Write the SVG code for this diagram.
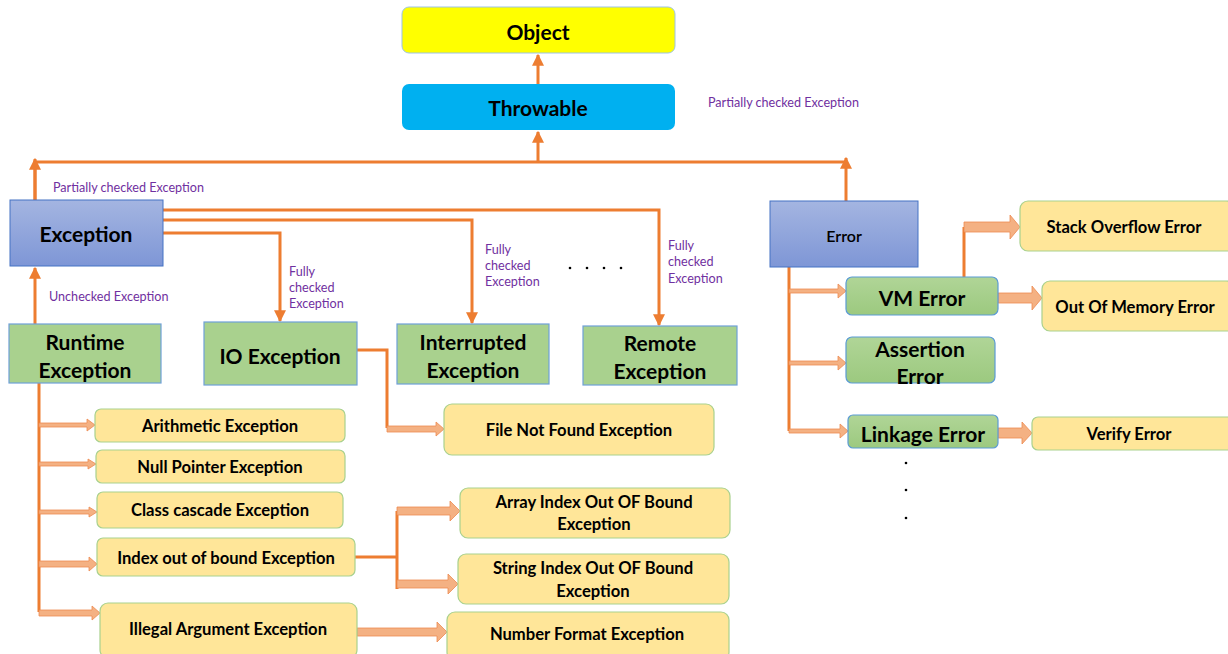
<svg xmlns="http://www.w3.org/2000/svg" width="1228" height="654" viewBox="0 0 1228 654">
<defs>
<linearGradient id="blueGrad" x1="0" y1="0" x2="0" y2="1">
<stop offset="0" stop-color="#A4B5E1"/>
<stop offset="1" stop-color="#7E96D6"/>
</linearGradient>
<linearGradient id="greenGrad" x1="0" y1="0" x2="0" y2="1">
<stop offset="0" stop-color="#B0D597"/>
<stop offset="1" stop-color="#9CC97F"/>
</linearGradient>
<marker id="ah" viewBox="0 0 10 10" refX="9" refY="5" markerWidth="4" markerHeight="4" orient="auto" markerUnits="strokeWidth">
<path d="M0,0 L10,5 L0,10 Z" fill="#ED7D31"/>
</marker>
</defs>
<style>
text{font-family:Lato,"Open Sans","Liberation Sans",sans-serif;fill:#000;text-anchor:middle;dominant-baseline:central}
.big{font-size:21px;font-weight:bold}
.mid{font-size:16.6px;font-weight:bold}
.lbl{font-size:12.6px;fill:#7030A0;text-anchor:start}
.conn{fill:none;stroke:#ED7D31;stroke-width:3}
.blk{fill:#F4B183;stroke:#EE8A50;stroke-width:0.8}
.yel{fill:#FFE699;stroke:#A9D18E;stroke-width:1.2}
.grn{fill:#A9D18E;stroke:#6FA0D8;stroke-width:1.2}
.grnr{fill:url(#greenGrad);stroke:#5B9BD5;stroke-width:1.2}
.blu{fill:url(#blueGrad);stroke:#4472C4;stroke-width:1}
.dot{fill:#000}
</style>

<g id="connectors">
<line class="conn" x1="538" y1="84" x2="538" y2="55" marker-end="url(#ah)"/>
<polyline class="conn" points="35,200 35,162 846,162"/>
<line class="conn" x1="35" y1="200" x2="35" y2="159" marker-end="url(#ah)"/>
<line class="conn" x1="538" y1="162" x2="538" y2="132" marker-end="url(#ah)"/>
<line class="conn" x1="846" y1="201" x2="846" y2="158" marker-end="url(#ah)"/>
<line class="conn" x1="35" y1="324" x2="35" y2="268" marker-end="url(#ah)"/>
<polyline class="conn" points="163,210 659,210 659,325" marker-end="url(#ah)"/>
<polyline class="conn" points="163,220 472,220 472,323" marker-end="url(#ah)"/>
<polyline class="conn" points="163,233 280,233 280,321" marker-end="url(#ah)"/>
<polyline class="conn" points="39,383 39,612"/>
<polyline class="conn" points="357,350 387,350 387,428"/>
<polyline class="conn" points="355,557 397,557"/>
<line class="conn" x1="397" y1="511" x2="397" y2="589"/>
<polyline class="conn" points="789,267 789,431"/>
<polyline class="conn" points="964,277 964,227"/>
<path class="blk" d="M39,423 L87,423 L87,419 L95,425 L87,431 L87,427 L39,427 Z"/>
<path class="blk" d="M39,462 L88,462 L88,459 L96,464 L88,469 L88,466 L39,466 Z"/>
<path class="blk" d="M39,510 L89,510 L89,507 L97,512 L89,517 L89,514 L39,514 Z"/>
<path class="blk" d="M39,561 L89,561 L89,557 L97,564 L89,571 L89,567 L39,567 Z"/>
<path class="blk" d="M39,610 L92,610 L92,606 L100,613 L92,620 L92,616 L39,616 Z"/>
<path class="blk" d="M387,426 L436,426 L436,422 L444,429 L436,436 L436,432 L387,432 Z"/>
<path class="blk" d="M397,507 L450,507 L450,501 L460,511 L450,521 L450,515 L397,515 Z"/>
<path class="blk" d="M397,580 L448,580 L448,574 L458,584 L448,594 L448,588 L397,588 Z"/>
<path class="blk" d="M357,628 L437,628 L437,622 L447,632 L437,642 L437,636 L357,636 Z"/>
<path class="blk" d="M789,289 L838,289 L838,284 L846,291 L838,298 L838,293 L789,293 Z"/>
<path class="blk" d="M789,361 L838,361 L838,356 L846,363 L838,370 L838,365 L789,365 Z"/>
<path class="blk" d="M789,429 L840,429 L840,424 L848,431 L840,438 L840,433 L789,433 Z"/>
<path class="blk" d="M964,222 L1010,222 L1010,215 L1020,227 L1010,239 L1010,232 L964,232 Z"/>
<path class="blk" d="M998,293 L1032,293 L1032,286 L1042,298 L1032,310 L1032,303 L998,303 Z"/>
<path class="blk" d="M998,428 L1022,428 L1022,422 L1032,433 L1022,444 L1022,438 L998,438 Z"/>
</g>

<g id="labels">
<text class="lbl" x="708" y="102">Partially checked Exception</text>
<text class="lbl" x="53" y="187">Partially checked Exception</text>
<text class="lbl" x="49" y="296">Unchecked Exception</text>
<text class="lbl" x="289" y="271">Fully</text>
<text class="lbl" x="289" y="287">checked</text>
<text class="lbl" x="289" y="303">Exception</text>
<text class="lbl" x="485" y="249">Fully</text>
<text class="lbl" x="485" y="265">checked</text>
<text class="lbl" x="485" y="281">Exception</text>
<text class="lbl" x="668" y="245">Fully</text>
<text class="lbl" x="668" y="261">checked</text>
<text class="lbl" x="668" y="278">Exception</text>
<circle class="dot" cx="570" cy="268" r="1.3"/>
<circle class="dot" cx="587" cy="268" r="1.3"/>
<circle class="dot" cx="604" cy="268" r="1.3"/>
<circle class="dot" cx="621" cy="268" r="1.3"/>
<circle class="dot" cx="906" cy="463" r="1.3"/>
<circle class="dot" cx="906" cy="490" r="1.3"/>
<circle class="dot" cx="906" cy="518" r="1.3"/>
</g>

<g id="object"><rect x="402" y="7" width="273" height="46" rx="7" fill="#FFFF00" stroke="#9DC3E6" stroke-width="1"/><text class="big" x="538" y="31">Object</text></g>
<g id="throwable"><rect x="402" y="84" width="273" height="46" rx="7" fill="#00B0F0"/><text class="big" x="538" y="107">Throwable</text></g>
<g id="exception"><rect x="10" y="200" width="153" height="66" class="blu"/><text class="big" x="86" y="233">Exception</text></g>
<g id="error"><rect x="770" y="201" width="148" height="66" class="blu"/><text x="844" y="235" style="font-size:16px;font-weight:600">Error</text></g>
<g id="runtime"><rect x="9" y="324" width="152" height="59" class="grn"/><text class="big" x="85" y="341">Runtime</text><text class="big" x="85" y="369">Exception</text></g>
<g id="io"><rect x="204" y="322" width="153" height="63" class="grn"/><text class="big" x="280" y="355">IO Exception</text></g>
<g id="interrupted"><rect x="397" y="324" width="152" height="60" class="grn"/><text class="big" x="473" y="341">Interrupted</text><text class="big" x="473" y="369">Exception</text></g>
<g id="remote"><rect x="583" y="326" width="154" height="59" class="grn"/><text class="big" x="660" y="342">Remote</text><text class="big" x="660" y="370">Exception</text></g>
<g id="vmerror"><rect x="846" y="277" width="152" height="38" rx="6" class="grnr"/><text class="big" x="922" y="297">VM Error</text></g>
<g id="assertion"><rect x="846" y="337" width="149" height="46" rx="6" class="grnr"/><text class="big" x="920" y="348">Assertion</text><text class="big" x="920" y="375">Error</text></g>
<g id="linkage"><rect x="848" y="415" width="150" height="33" rx="5" class="grnr"/><text class="big" x="923" y="433">Linkage Error</text></g>
<g id="stackoverflow"><rect x="1020" y="201" width="214" height="50" rx="8" class="yel"/><text class="mid" x="1124" y="227">Stack Overflow Error</text></g>
<g id="outofmemory"><rect x="1042" y="281" width="192" height="50" rx="8" class="yel"/><text class="mid" x="1135" y="307">Out Of Memory Error</text></g>
<g id="verify"><rect x="1032" y="417" width="202" height="33" rx="6" class="yel"/><text class="mid" x="1129" y="434">Verify Error</text></g>
<g id="arithmetic"><rect x="95" y="409" width="250" height="33" rx="6" class="yel"/><text class="mid" x="220" y="426">Arithmetic Exception</text></g>
<g id="nullpointer"><rect x="96" y="450" width="249" height="33" rx="6" class="yel"/><text class="mid" x="220" y="467">Null Pointer Exception</text></g>
<g id="classcascade"><rect x="97" y="492" width="246" height="36" rx="6" class="yel"/><text class="mid" x="220" y="510">Class cascade Exception</text></g>
<g id="indexoutofbound"><rect x="97" y="538" width="258" height="38" rx="6" class="yel"/><text class="mid" x="226" y="558">Index out of bound Exception</text></g>
<g id="illegalargument"><rect x="100" y="603" width="257" height="55" rx="8" class="yel"/><text class="mid" x="228" y="629">Illegal Argument Exception</text></g>
<g id="filenotfound"><rect x="444" y="404" width="270" height="51" rx="8" class="yel"/><text class="mid" x="579" y="430">File Not Found Exception</text></g>
<g id="arrayindex"><rect x="460" y="488" width="270" height="50" rx="8" class="yel"/><text class="mid" x="594" y="502">Array Index Out OF Bound</text><text class="mid" x="594" y="524">Exception</text></g>
<g id="stringindex"><rect x="458" y="554" width="271" height="50" rx="8" class="yel"/><text class="mid" x="593" y="568">String Index Out OF Bound</text><text class="mid" x="593" y="591">Exception</text></g>
<g id="numberformat"><rect x="447" y="612" width="282" height="48" rx="8" class="yel"/><text class="mid" x="587" y="634">Number Format Exception</text></g>
</svg>
